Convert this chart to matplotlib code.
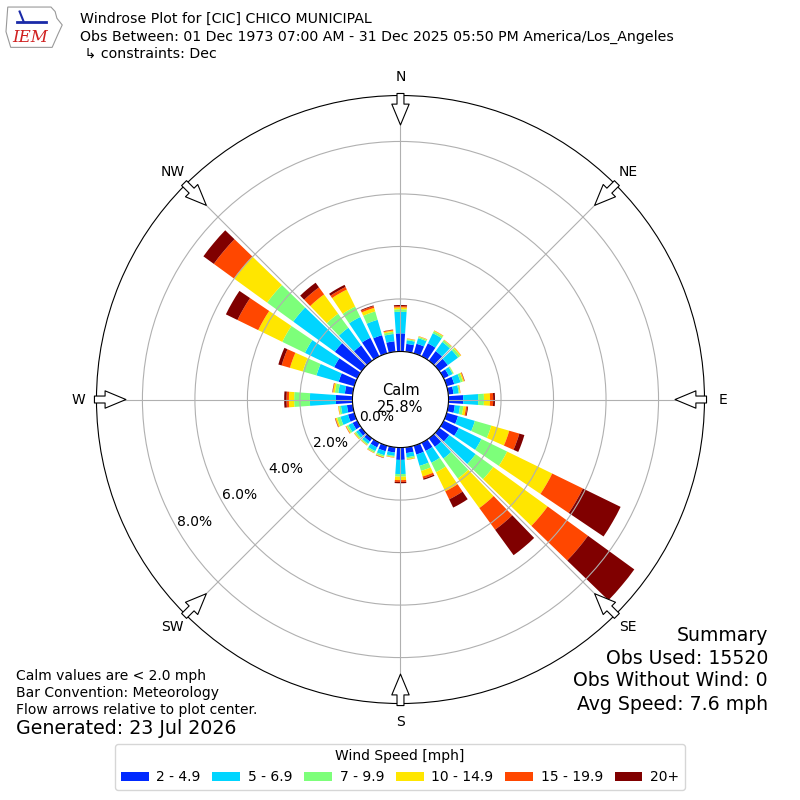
import matplotlib
matplotlib.use("Agg")
import matplotlib.pyplot as plt
from matplotlib.patches import Patch, Polygon
import numpy as np

# direction bins (degrees, meteorological)
directions = list(range(0, 360, 10))

# percent of observations per direction for each speed bin
spd_2_5 = [0.69, 0.30, 0.38, 0.55, 0.45, 0.40, 0.22, 0.30, 0.20, 0.56, 0.25, 0.45,
           0.64, 0.47, 0.40, 0.35, 0.35, 0.22, 0.47, 0.20, 0.22, 0.20, 0.15, 0.15,
           0.20, 0.25, 0.22, 0.63, 0.30, 0.62, 0.98, 1.26, 0.72, 0.79, 0.72, 0.40]
spd_5_7 = [0.82, 0.14, 0.22, 0.43, 0.43, 0.48, 0.16, 0.25, 0.20, 0.57, 0.20, 0.67,
           0.96, 1.24, 0.55, 0.50, 0.45, 0.16, 0.54, 0.13, 0.16, 0.16, 0.11, 0.11,
           0.18, 0.30, 0.23, 0.99, 0.25, 0.88, 1.24, 1.96, 0.83, 0.88, 0.61, 0.28]
spd_7_10 = [0.10, 0.04, 0.05, 0.08, 0.08, 0.10, 0.04, 0.09, 0.04, 0.22, 0.13, 0.65,
            1.09, 0.83, 0.94, 0.40, 0.20, 0.06, 0.10, 0.04, 0.06, 0.06, 0.05, 0.06,
            0.07, 0.13, 0.07, 0.60, 0.13, 0.54, 0.96, 1.23, 0.66, 0.44, 0.33, 0.08]
spd_10_15 = [0.07, 0.02, 0.02, 0.03, 0.02, 0.04, 0.01, 0.05, 0.02, 0.23, 0.10, 0.71,
             1.91, 2.56, 1.39, 0.81, 0.22, 0.03, 0.13, 0.02, 0.03, 0.02, 0.02, 0.03,
             0.03, 0.06, 0.03, 0.20, 0.07, 0.51, 1.02, 1.56, 0.91, 0.72, 0.14, 0.05]
spd_15_20 = [0.05, 0.01, 0.01, 0.01, 0.01, 0.01, 0.00, 0.02, 0.01, 0.12, 0.05, 0.40,
             1.30, 1.90, 1.02, 0.34, 0.08, 0.01, 0.07, 0.01, 0.01, 0.01, 0.01, 0.01,
             0.02, 0.02, 0.01, 0.09, 0.02, 0.33, 0.88, 0.95, 0.33, 0.11, 0.07, 0.03]
spd_20p = [0.04, 0.00, 0.00, 0.00, 0.00, 0.00, 0.00, 0.01, 0.00, 0.07, 0.03, 0.20,
           1.60, 2.18, 1.20, 0.35, 0.05, 0.00, 0.05, 0.00, 0.01, 0.00, 0.00, 0.00,
           0.00, 0.01, 0.00, 0.09, 0.01, 0.13, 0.49, 0.49, 0.22, 0.09, 0.03, 0.01]

speed_labels = ["2 - 4.9", "5 - 6.9", "7 - 9.9", "10 - 14.9", "15 - 19.9", "20+"]
card_labels = ["N", "NE", "E", "SE", "S", "SW", "W", "NW"]
rticks = [0, 2, 4, 6, 8]

calm_pct = 25.8
rmax = 9.75
rorigin = -1.83

table = np.array([spd_2_5, spd_5_7, spd_7_10, spd_10_15, spd_15_20, spd_20p])
colors = plt.get_cmap("jet")(np.linspace(0, 1, 7)[1:])

fig = plt.figure(figsize=(8, 8), dpi=100)
ax = fig.add_axes([0.1206, 0.1206, 0.76, 0.76], projection="polar")
ax.set_theta_zero_location("N")
ax.set_theta_direction(-1)

theta = np.radians(directions)
width = np.radians(10) * 0.8
base = np.zeros(len(directions))
for i in range(table.shape[0]):
    ax.bar(theta, table[i], width=width, bottom=base, color=colors[i],
           edgecolor="none", align="center")
    base = base + table[i]

ax.set_rorigin(rorigin)
ax.set_ylim(0, rmax)
ax.set_yticks(rticks)
ax.set_yticklabels(["%.1f%%" % t for t in rticks], fontsize=10)
ax.set_rlabel_position(240)
ax.set_xticks(np.radians(np.arange(0, 360, 45)))
ax.set_xticklabels(card_labels, fontsize=10)
ax.tick_params(axis="x", pad=2.5)
ax.grid(True, color="#b0b0b0", lw=0.8)

# flow arrows on the rim, pointing to the center
for ang in np.arange(0, 360, 45):
    t = np.radians(ang)
    ax.annotate("", xy=(t, rmax * 0.885), xytext=(t, rmax * 1.008),
                xycoords="data", textcoords="data", annotation_clip=False,
                arrowprops=dict(arrowstyle="simple,head_length=1.5,head_width=1.25,tail_width=0.5",
                                fc="white", ec="black", lw=0.8, shrinkA=0, shrinkB=0))

fig.text(0.5006, 0.5015, "Calm\n%.1f%%" % calm_pct, ha="center", va="center", fontsize=10.5)

# header
fig.text(0.1, 0.976, "Windrose Plot for [CIC] CHICO MUNICIPAL", fontsize=10.2, va="center")
fig.text(0.1, 0.954, "Obs Between: 01 Dec 1973 07:00 AM - 31 Dec 2025 05:50 PM America/Los_Angeles",
         fontsize=10.2, va="center")
fig.text(0.1, 0.9325, " \u21b3 constraints: Dec", fontsize=10.2, va="center")

# little IEM logo
logo = fig.add_axes([0.006, 0.938, 0.074, 0.056])
logo.add_patch(Polygon([[0.05, 0.95], [0.78, 0.95], [0.85, 0.85], [0.88, 0.7], [0.97, 0.55],
                        [0.9, 0.35], [0.85, 0.2], [0.8, 0.05], [0.1, 0.05], [0.02, 0.4],
                        [0.05, 0.95]], closed=True, fill=False, ec="#999999", lw=0.8))
logo.plot([0.2, 0.7], [0.62, 0.62], color="#1a2aa8", lw=2)
logo.plot([0.25, 0.32], [0.85, 0.62], color="#1a2aa8", lw=1.5)
logo.text(0.42, 0.28, "IEM", color="#d02020", fontsize=12, family="serif",
          style="italic", ha="center", va="center")
logo.set_xlim(0, 1)
logo.set_ylim(0, 1)
logo.axis("off")

# notes
fig.text(0.02, 0.155, "Calm values are < 2.0 mph", fontsize=10, va="center")
fig.text(0.02, 0.134, "Bar Convention: Meteorology", fontsize=10, va="center")
fig.text(0.02, 0.1125, "Flow arrows relative to plot center.", fontsize=10, va="center")
fig.text(0.02, 0.089, "Generated: 23 Jul 2026", fontsize=13.7, va="center")

fig.text(0.96, 0.206, "Summary", fontsize=13.6, ha="right", va="center")
fig.text(0.96, 0.1775, "Obs Used: 15520", fontsize=13.6, ha="right", va="center")
fig.text(0.96, 0.149, "Obs Without Wind: 0", fontsize=13.6, ha="right", va="center")
fig.text(0.96, 0.119, "Avg Speed: 7.6 mph", fontsize=13.6, ha="right", va="center")

handles = [Patch(facecolor=colors[i], label=speed_labels[i]) for i in range(6)]
fig.legend(handles=handles, loc="lower center", bbox_to_anchor=(0.5, 0.004), ncol=6,
           title="Wind Speed [mph]", fontsize=10, title_fontsize=10,
           handletextpad=0.55, columnspacing=0.85)

fig.savefig("out.png", dpi=100)
